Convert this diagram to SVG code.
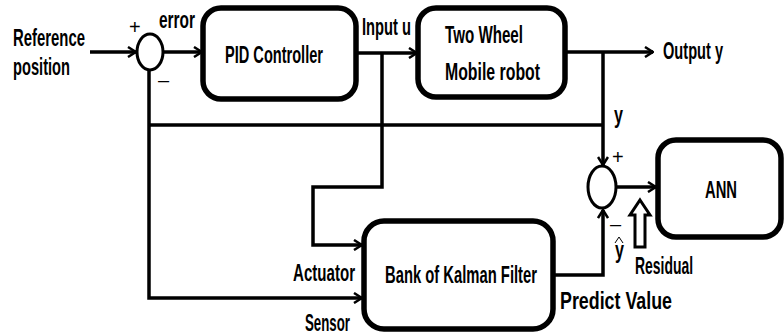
<svg xmlns="http://www.w3.org/2000/svg" width="784" height="335" viewBox="0 0 784 335">
<defs>
<marker id="arr" viewBox="0 0 10 12" refX="9" refY="6" markerWidth="10" markerHeight="12" markerUnits="userSpaceOnUse" orient="auto">
<path d="M1,1 L9,6 L1,11" fill="none" stroke="#000" stroke-width="2.5"/>
</marker>
<style>
.box{fill:#fff;stroke:#000;stroke-width:5.5}
.ln{fill:none;stroke:#000;stroke-width:3.5}
.sum{fill:#fff;stroke:#000;stroke-width:3}
.t{font-family:"Liberation Sans Narrow","Liberation Sans",Arial,sans-serif;font-weight:bold;font-size:24px;fill:#000}
.s{font-family:"Liberation Sans",Arial,sans-serif;font-weight:normal;font-size:20px;fill:#000}
</style>
</defs>
<rect width="784" height="335" fill="#fff"/>
<g id="connectors">
<path class="ln" d="M90,52 H136" marker-end="url(#arr)"/>
<path class="ln" d="M163,52 H202" marker-end="url(#arr)"/>
<path class="ln" d="M357,53 H417" marker-end="url(#arr)"/>
<path class="ln" d="M382,53 V187 H313 V245 H362" marker-end="url(#arr)"/>
<path class="ln" d="M565,52 H653" marker-end="url(#arr)"/>
<path class="ln" d="M603,52 V165" marker-end="url(#arr)"/>
<path class="ln" d="M149,125 H603"/>
<path class="ln" d="M149,70 V298 H362" marker-end="url(#arr)"/>
<path class="ln" d="M553,275 H603 V210" marker-end="url(#arr)"/>
<path class="ln" d="M616,187 H656" marker-end="url(#arr)"/>
<path d="M640,200 L650,215 H645 V247 H635 V215 H630 Z" fill="#fff" stroke="#000" stroke-width="3" stroke-linejoin="miter"/>
</g>
<g id="sum1">
<ellipse class="sum" cx="150" cy="52" rx="13" ry="18"/>
<text class="s" x="129" y="34">+</text>
<text class="s" x="158" y="87">–</text>
</g>
<g id="sum2">
<ellipse class="sum" cx="602" cy="187" rx="14" ry="21"/>
<text class="s" x="612" y="164">+</text>
<text class="s" x="610" y="231">–</text>
</g>
<g id="pid">
<rect class="box" x="203" y="8" width="153" height="91" rx="18"/>
<text class="t" x="225" y="63" textLength="98" lengthAdjust="spacingAndGlyphs">PID Controller</text>
</g>
<g id="robot">
<rect class="box" x="418" y="8" width="147" height="89" rx="18"/>
<text class="t" x="445" y="43" textLength="78" lengthAdjust="spacingAndGlyphs">Two Wheel</text>
<text class="t" x="445" y="80" textLength="95" lengthAdjust="spacingAndGlyphs">Mobile robot</text>
</g>
<g id="kalman">
<rect class="box" x="364" y="221" width="189" height="108" rx="20"/>
<text class="t" x="385" y="283" textLength="152" lengthAdjust="spacingAndGlyphs">Bank of Kalman Filter</text>
</g>
<g id="ann">
<rect class="box" x="658" y="140" width="123" height="97" rx="18"/>
<text class="t" x="705" y="198" textLength="32" lengthAdjust="spacingAndGlyphs">ANN</text>
</g>
<g id="labels">
<text class="t" x="13" y="46" textLength="72" lengthAdjust="spacingAndGlyphs">Reference</text>
<text class="t" x="13" y="75" textLength="57" lengthAdjust="spacingAndGlyphs">position</text>
<text class="t" x="159" y="28" textLength="36" lengthAdjust="spacingAndGlyphs">error</text>
<text class="t" x="362" y="35" textLength="49" lengthAdjust="spacingAndGlyphs">Input u</text>
<text class="t" x="663" y="59" textLength="60" lengthAdjust="spacingAndGlyphs">Output y</text>
<text class="t" x="614" y="123" textLength="9" lengthAdjust="spacingAndGlyphs">y</text>
<text class="t" x="615" y="258" textLength="9" lengthAdjust="spacingAndGlyphs">y</text>
<path d="M615,243 L619,237 L623,243" fill="none" stroke="#000" stroke-width="1"/>
<text class="t" x="635" y="274" textLength="58" lengthAdjust="spacingAndGlyphs">Residual</text>
<text class="t" x="293" y="281" textLength="62" lengthAdjust="spacingAndGlyphs">Actuator</text>
<text class="t" x="305" y="331" textLength="45" lengthAdjust="spacingAndGlyphs">Sensor</text>
<text class="t" x="560" y="309" textLength="112" lengthAdjust="spacingAndGlyphs">Predict Value</text>
</g>
</svg>
